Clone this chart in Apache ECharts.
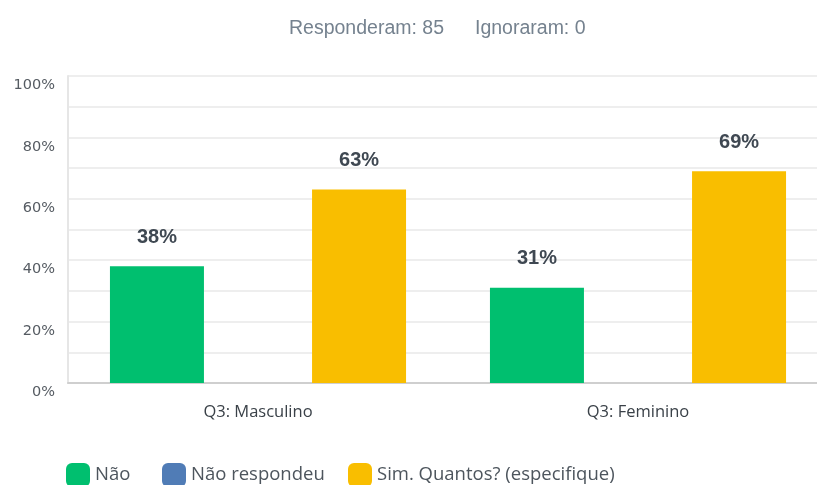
<!DOCTYPE html>
<html><head><meta charset="utf-8">
<script src="https://cdn.jsdelivr.net/npm/echarts@6/dist/echarts.min.js"></script>
<style>html,body{margin:0;padding:0;background:#fff;overflow:hidden;width:817px;height:485px}#c{width:830px;height:485px}</style>
</head><body><div id="c"></div>
<script>
const categories = ['Q3: Masculino', 'Q3: Feminino'];
const seriesNames = ['Não', 'Não respondeu', 'Sim. Quantos? (especifique)'];
const valuesNao = [38, 31];
const valuesNaoResp = [0, 0];
const valuesSim = [63, 69];
const yTicks = [0, 20, 40, 60, 80, 100];
const headerTexts = ['Responderam: 85', 'Ignoraram: 0'];
const colors = ['#00bf6f', '#507cb6', '#f9be00'];

const chart = echarts.init(document.getElementById('c'));
const labelCfg = {
  show: true, position: 'top', distance: 19,
  formatter: p => p.value + '%',
  fontFamily: 'Liberation Sans, Arial, sans-serif', fontWeight: 'bold', fontSize: 20, color: '#3f4852'
};
function mk(name, data, color, showLabel) {
  return {
    name, type: 'bar', data, barWidth: 94, barGap: '7.5%',
    itemStyle: { color },
    label: showLabel ? labelCfg : { show: false }
  };
}
const titleStyle = { fontFamily: 'Liberation Sans, Arial, sans-serif', fontWeight: 'normal', fontSize: 19.5, color: '#75828f' };
const legendText = { fontFamily: 'Open Sans, sans-serif', fontSize: 18.5, color: '#4d555d' };
const legendLefts = [66, 162, 348];
chart.setOption({
  animation: false,
  title: [
    { text: headerTexts[0], left: 289, top: 19, padding: 0, textStyle: titleStyle },
    { text: headerTexts[1], left: 475, top: 19, padding: 0, textStyle: titleStyle }
  ],
  legend: seriesNames.map((n, i) => ({
    left: legendLefts[i], top: 463, padding: 0, itemWidth: 24, itemHeight: 24, itemGap: 0,
    icon: 'roundRect', textStyle: legendText, data: [n]
  })),
  grid: { left: 68, right: 2, top: 76, bottom: 102, containLabel: false },
  xAxis: {
    type: 'category', data: categories,
    axisLine: { lineStyle: { color: '#cfcfcf', width: 2 } },
    axisTick: { show: false },
    axisLabel: { margin: 21, fontFamily: 'Open Sans, sans-serif', fontSize: 16.5, color: '#3a4148' }
  },
  yAxis: {
    type: 'value', min: 0, max: 100, interval: 10,
    axisLine: { show: true, lineStyle: { color: '#e6e6e6', width: 2 } },
    axisTick: { show: false },
    splitLine: { lineStyle: { color: '#eeeeee', width: 2 } },
    axisLabel: {
      margin: 13, verticalAlign: 'top', padding: [2, 0, 0, 0],
      fontFamily: 'DejaVu Sans, sans-serif', fontSize: 14.5, color: '#555b62',
      formatter: v => yTicks.includes(v) ? v + '%' : ''
    }
  },
  series: [
    mk(seriesNames[0], valuesNao, colors[0], true),
    mk(seriesNames[1], valuesNaoResp, colors[1], false),
    mk(seriesNames[2], valuesSim, colors[2], true)
  ]
});
</script></body></html>
